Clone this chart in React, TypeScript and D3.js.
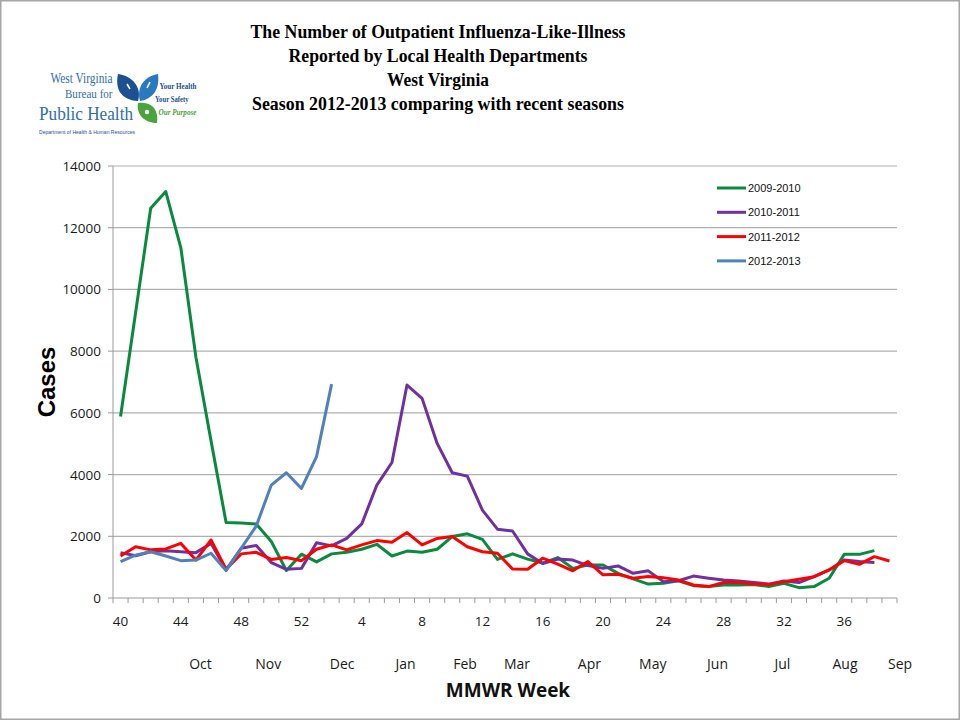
import * as React from 'react';
import * as d3 from 'd3';

const useMemo = React.useMemo;

// MMWR weeks of a season, 40..52 then 1..39
const weeks = [
  40, 41, 42, 43, 44, 45, 46, 47, 48, 49, 50, 51, 52,
  1, 2, 3, 4, 5, 6, 7, 8, 9, 10, 11, 12, 13, 14, 15, 16, 17, 18, 19, 20,
  21, 22, 23, 24, 25, 26, 27, 28, 29, 30, 31, 32, 33, 34, 35, 36, 37, 38, 39
];
const weekTicks = [40, 44, 48, 52, 4, 8, 12, 16, 20, 24, 28, 32, 36];
const yTicks = [0, 2000, 4000, 6000, 8000, 10000, 12000, 14000];

const monthNames = ['Oct', 'Nov', 'Dec', 'Jan', 'Feb', 'Mar', 'Apr', 'May', 'Jun', 'Jul', 'Aug', 'Sep'];
// where each month label sits, counted in weeks from week 40
const monthAt = [5.3, 9.8, 14.7, 18.9, 22.85, 26.3, 31.1, 35.3, 39.6, 43.9, 48.05, 51.7];

const seasons = ['2009-2010', '2010-2011', '2011-2012', '2012-2013'];
const colors = ['#0a8a3e', '#7030a0', '#ff0000', '#4f81bd'];

const cases2009 = [
  5880, 9250, 12630, 13170, 11350, 7800, 5100, 2450, 2430, 2400, 1830, 890, 1420,
  1170, 1430, 1480, 1580, 1740, 1360, 1520, 1480, 1580, 1990, 2080, 1900, 1250,
  1430, 1260, 1130, 1310, 960, 1070, 1070, 800, 620, 450, 480, 560, 400, 370,
  420, 420, 440, 370, 475, 335, 370, 640, 1415, 1415, 1535
];
const cases2010 = [
  1470, 1370, 1500, 1530, 1500, 1470, 1770, 910, 1610, 1700, 1150, 930, 960,
  1790, 1690, 1930, 2400, 3660, 4390, 6900, 6470, 5010, 4060, 3950, 2850, 2230,
  2170, 1430, 1120, 1260, 1230, 1050, 960, 1040, 800, 880, 530, 560, 710, 640,
  580, 550, 500, 450, 550, 500, 690, 910, 1230, 1180, 1150
];
const cases2011 = [
  1360, 1660, 1560, 1590, 1770, 1230, 1880, 930, 1430, 1480, 1250, 1310, 1210,
  1580, 1720, 1560, 1720, 1860, 1810, 2120, 1720, 1930, 1990, 1660, 1500, 1450,
  940, 930, 1290, 1100, 880, 1180, 750, 770, 640, 700, 660, 580, 420, 370,
  500, 500, 450, 440, 530, 610, 690, 910, 1210, 1090, 1340, 1200
];
const cases2012 = [1180, 1390, 1500, 1360, 1210, 1230, 1450, 890, 1610, 2330, 3660, 4060, 3550, 4580, 6930];

const seriesValues = [cases2009, cases2010, cases2011, cases2012];

const W = 960;
const H = 720;
const sans = '"Open Sans", "Liberation Sans", sans-serif';
const arial = '"Liberation Sans", Arial, sans-serif';
const serif = '"Liberation Serif", "Times New Roman", serif';

function Logo() {
  const blue = '#2f6db0';
  const dark = '#1d4f93';
  return (
    <g>
      <text x={50.5} y={83} fontFamily={serif} fontSize={14} fill={blue} textLength={62} lengthAdjust="spacingAndGlyphs">
        West Virginia
      </text>
      <text x={65} y={98} fontFamily={serif} fontSize={13} fill={blue} textLength={47.5} lengthAdjust="spacingAndGlyphs">
        Bureau for
      </text>
      <text x={39} y={119.5} fontFamily={serif} fontSize={19} fill={blue} textLength={94} lengthAdjust="spacingAndGlyphs">
        Public Health
      </text>
      <text x={39} y={133.5} fontFamily={arial} fontSize={5.4} fill={dark} textLength={96} lengthAdjust="spacingAndGlyphs">
        Department of Health &amp; Human Resources
      </text>
      {/* leaves */}
      <path d="M138,101 C120,100 115,88 118,74 C133,76 142,88 138,101 Z" fill={dark} />
      <path d="M140,101 C136,87 145,76 158,74 C160,89 153,99 140,101 Z" fill="#2a78c0" />
      <path d="M127,84 l3,5 M150,82 l-3,6" stroke="#fff" strokeWidth={1.6} />
      <path d="M138,103 C152,101 159,110 157,123 C144,123 136,114 138,103 Z" fill="#4aa33c" />
      <circle cx={147} cy={112} r={2.2} fill="#fff" />
      <text x={159.5} y={89} fontFamily={serif} fontWeight="bold" fontSize={9} fill={dark} textLength={37} lengthAdjust="spacingAndGlyphs">
        Your Health
      </text>
      <text x={155} y={102} fontFamily={serif} fontWeight="bold" fontSize={9} fill={dark} textLength={33.5} lengthAdjust="spacingAndGlyphs">
        Your Safety
      </text>
      <text x={158.5} y={115} fontFamily={serif} fontWeight="bold" fontStyle="italic" fontSize={9} fill="#4aa33c" textLength={38} lengthAdjust="spacingAndGlyphs">
        Our Purpose
      </text>
    </g>
  );
}

export default function App() {
  const x = useMemo(
    () => d3.scaleBand<number>().domain(weeks).range([113, 897]).paddingInner(0).paddingOuter(0),
    []
  );
  const y = useMemo(() => d3.scaleLinear().domain([0, 14000]).range([598, 166]), []);
  const bw = x.bandwidth();
  const cx = (i: number) => (x(weeks[0]) as number) + bw / 2 + i * bw;

  const line = d3
    .line<number>()
    .x((_, i) => cx(i))
    .y((d) => y(d));

  const boundaries = d3.range(weeks.length + 1).map((i) => 113 + i * bw);

  const titleLines = [
    { text: 'The Number of Outpatient Influenza-Like-Illness', w: 375, y: 37.5 },
    { text: 'Reported by Local Health Departments', w: 299, y: 62 },
    { text: 'West Virginia', w: 102, y: 86 },
    { text: 'Season 2012-2013 comparing with recent seasons', w: 372, y: 110 }
  ];

  return (
    <svg width={W} height={H} style={{ position: 'absolute', left: 0, top: 0, background: '#fff' }}>
      <rect x={0.75} y={0.75} width={W - 1.5} height={H - 1.5} fill="#fff" stroke="#a6a6a6" strokeWidth={1.5} />

      <Logo />

      {titleLines.map((t) => (
        <text
          key={t.text}
          x={438}
          y={t.y}
          textAnchor="middle"
          fontFamily={serif}
          fontWeight="bold"
          fontSize={19.5}
          textLength={t.w}
          lengthAdjust="spacingAndGlyphs"
        >
          {t.text}
        </text>
      ))}

      {/* grid */}
      {yTicks.map((v) => (
        <g key={v}>
          {v > 0 && <line x1={113} x2={897} y1={y(v)} y2={y(v)} stroke="#b0b0b0" strokeWidth={1.2} />}
          <line x1={108} x2={113} y1={y(v)} y2={y(v)} stroke="#9a9a9a" />
          <text x={101} y={y(v) + 5} textAnchor="end" fontFamily={sans} fontSize={13.5} fill="#1a1a1a">
            {v}
          </text>
        </g>
      ))}
      <line x1={113} x2={113} y1={166} y2={598} stroke="#9a9a9a" />
      <line x1={113} x2={897} y1={598} y2={598} stroke="#9a9a9a" />
      {boundaries.map((bx, i) => (
        <line key={i} x1={bx} x2={bx} y1={598} y2={603} stroke="#9a9a9a" />
      ))}
      {weekTicks.map((w) => (
        <text
          key={w}
          x={(x(w) as number) + bw / 2}
          y={626}
          textAnchor="middle"
          fontFamily={sans}
          fontSize={13.5}
          fill="#1a1a1a"
        >
          {w}
        </text>
      ))}
      {monthNames.map((m, i) => (
        <text
          key={m}
          x={cx(monthAt[i])}
          y={669}
          textAnchor="middle"
          fontFamily={sans}
          fontSize={14}
          fill="#1a1a1a"
        >
          {m}
        </text>
      ))}

      <text x={508} y={697} textAnchor="middle" fontFamily={sans} fontWeight="bold" fontSize={19} fill="#111">
        MMWR Week
      </text>
      <text
        transform="translate(55,382) rotate(-90)"
        textAnchor="middle"
        fontFamily={arial}
        fontWeight="bold"
        fontSize={24}
        fill="#000"
      >
        Cases
      </text>

      {/* series */}
      {seriesValues.map((vals, s) => (
        <path
          key={seasons[s]}
          d={line(vals) || ''}
          fill="none"
          stroke={colors[s]}
          strokeWidth={3}
          strokeLinejoin="round"
        />
      ))}

      {/* legend */}
      {seasons.map((name, s) => (
        <g key={name} transform={`translate(717,${188 + s * 24.3})`}>
          <line x1={0} x2={29} y1={0} y2={0} stroke={colors[s]} strokeWidth={3} />
          <text x={31} y={4} fontFamily={arial} fontSize={11} fill="#111">
            {name}
          </text>
        </g>
      ))}
    </svg>
  );
}
